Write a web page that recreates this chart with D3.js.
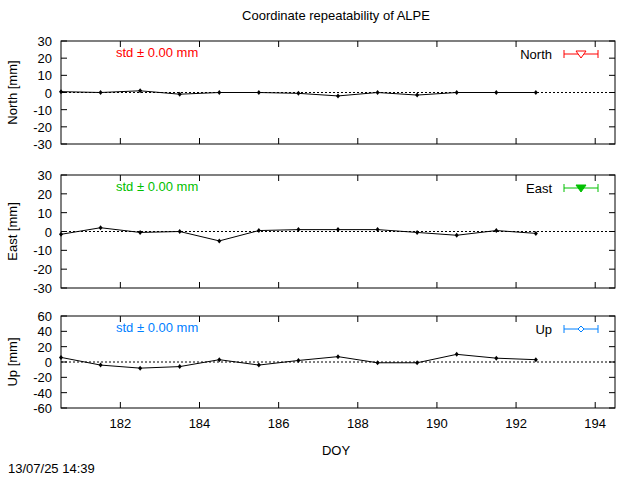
<!DOCTYPE html>
<html><head><meta charset="utf-8">
<script src="https://cdn.jsdelivr.net/npm/d3@7"></script>
<style>body{margin:0;background:#fff}text{font-family:"Liberation Sans",Arial,sans-serif;font-size:13px}</style>
</head><body>
<script>
const doy = [180.5,181.5,182.5,183.5,184.5,185.5,186.5,187.5,188.5,189.5,190.5,191.5,192.5]
const north = [0.5,0,1,-1,0,0,-0.5,-2,0,-1.5,0,0,0]
const east = [-1.5,2,-0.5,0,-5,0.5,1,1,1,-0.5,-2,0.5,-1]
const up = [6,-4,-8,-6,3,-4,2,7,-1,-1,10,5,3]
const xTicks = [182,184,186,188,190,192,194]

const panels = [
  {name:"North", label:"North [mm]", vals:north, top:41, bottom:144, dom:[-30,30], ticks:d3.range(-30,31,10), color:"#ff0000", sym:"tri-down-open"},
  {name:"East", label:"East [mm]", vals:east, top:175, bottom:288, dom:[-30,30], ticks:d3.range(-30,31,10), color:"#00c000", sym:"tri-down"},
  {name:"Up", label:"Up [mm]", vals:up, top:316, bottom:408, dom:[-60,60], ticks:d3.range(-60,61,20), color:"#0080ff", sym:"diamond"}
]

const svg = d3.select("body").append("svg").attr("width",640).attr("height",480)
const x = d3.scaleLinear().domain([180.5,194.5]).range([61,615])

svg.append("text").attr("x",336).attr("y",20).attr("text-anchor","middle").text("Coordinate repeatability of ALPE")

panels.forEach((p, pi) => {
  let y = d3.scaleLinear().domain(p.dom).range([p.bottom, p.top])
  let g = svg.append("g")
  p.ticks.forEach(t => {
    g.append("line").attr("x1",61).attr("x2",67).attr("y1",y(t)).attr("y2",y(t)).attr("stroke","#000")
    g.append("line").attr("x1",609).attr("x2",615).attr("y1",y(t)).attr("y2",y(t)).attr("stroke","#000")
    g.append("text").attr("x",52).attr("y",y(t)+5).attr("text-anchor","end").text(t)
  })
  xTicks.forEach(t => {
    g.append("line").attr("x1",x(t)).attr("x2",x(t)).attr("y1",p.bottom).attr("y2",p.bottom-6).attr("stroke","#000")
    g.append("line").attr("x1",x(t)).attr("x2",x(t)).attr("y1",p.top).attr("y2",p.top+6).attr("stroke","#000")
    if (pi == 2) g.append("text").attr("x",x(t)).attr("y",p.bottom+20).attr("text-anchor","middle").text(t)
  })
  g.append("line").attr("x1",61).attr("x2",615).attr("y1",y(0)).attr("y2",y(0))
    .attr("stroke","#000").attr("stroke-dasharray","2,2")
  g.append("rect").attr("x",61).attr("y",p.top).attr("width",554).attr("height",p.bottom-p.top)
    .attr("fill","none").attr("stroke","#000")
  g.append("text").attr("transform",`translate(17,${(p.top+p.bottom)/2}) rotate(-90)`)
    .attr("text-anchor","middle").text(p.label)
  g.append("text").attr("x",116).attr("y",p.top+16).attr("fill",p.color).text("std ± 0.00 mm")
  let ly = p.top+13
  g.append("text").attr("x",552).attr("y",ly+5).attr("text-anchor","end").text(p.name)
  g.append("line").attr("x1",564).attr("x2",598).attr("y1",ly).attr("y2",ly).attr("stroke",p.color)
  ;[564,598].forEach(xx => g.append("line").attr("x1",xx).attr("x2",xx).attr("y1",ly-4).attr("y2",ly+4).attr("stroke",p.color))
  if (p.sym == "diamond") {
    g.append("path").attr("d",`M581,${ly-3}L584,${ly}L581,${ly+3}L578,${ly}Z`).attr("fill","#fff").attr("stroke",p.color)
  } else {
    g.append("path").attr("d",`M576,${ly-3}L586,${ly-3}L581,${ly+4}Z`)
      .attr("fill",p.sym=="tri-down"?p.color:"#fff").attr("stroke",p.color)
  }
  let line = d3.line().x((d,i) => x(doy[i])).y(d => y(d))
  g.append("path").datum(p.vals).attr("d",line).attr("fill","none").attr("stroke","#000")
  g.selectAll(".pt").data(p.vals).enter().append("path")
    .attr("d",(d,i) => `M${x(doy[i])-2},${y(d)}L${x(doy[i])},${y(d)-2.5}L${x(doy[i])+2},${y(d)}L${x(doy[i])},${y(d)+2.5}Z`)
    .attr("fill","#000")
})

svg.append("text").attr("x",336).attr("y",455).attr("text-anchor","middle").text("DOY")
svg.append("text").attr("x",8).attr("y",473).text("13/07/25 14:39")
</script>
</body></html>
